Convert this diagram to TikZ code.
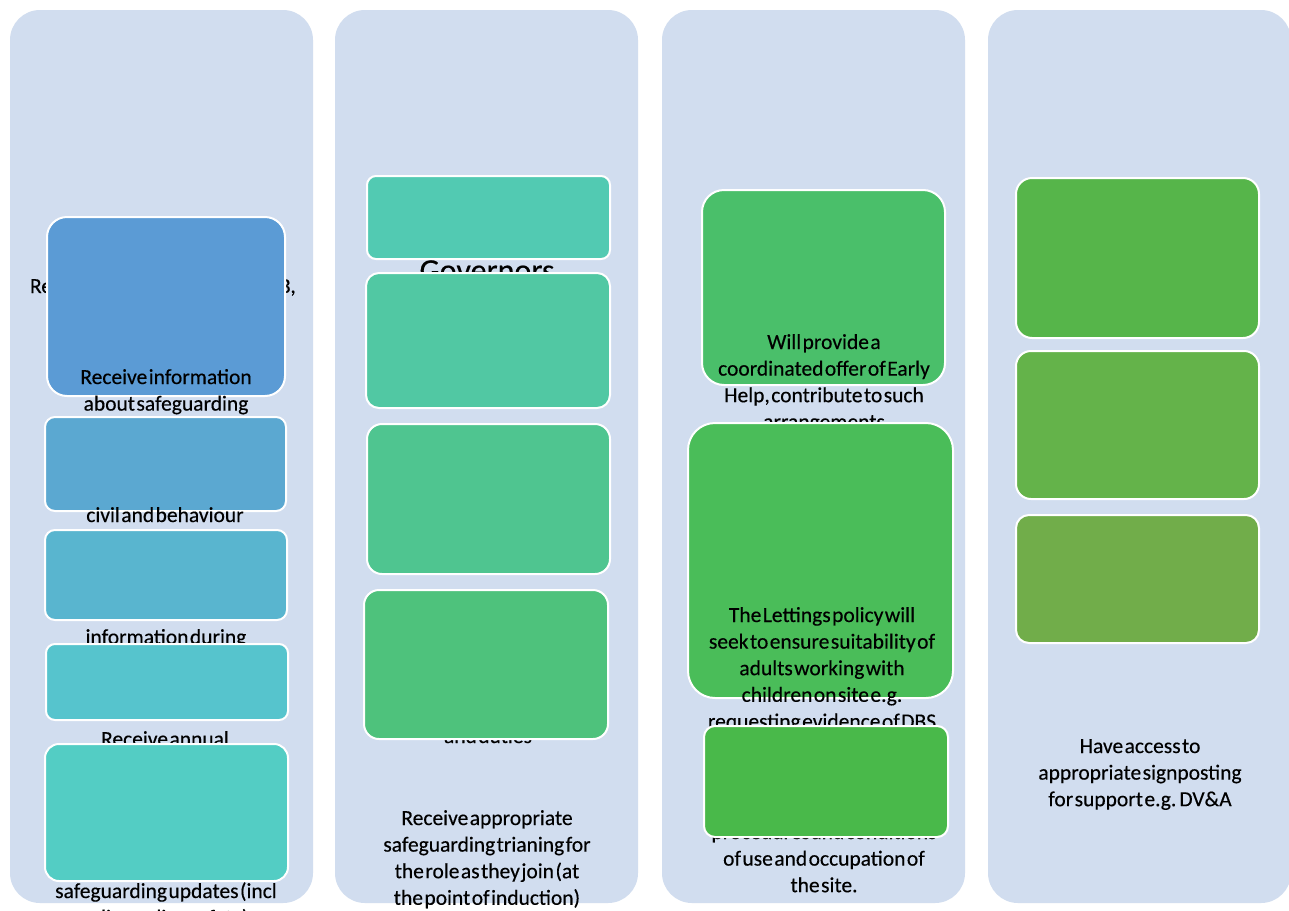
\documentclass[tikz,border=0pt]{standalone}
\usepackage{fontspec}
\setmainfont{Carlito}[WordSpace=0.3, FakeBold=0.3]
\newcommand\lns[1]{\begin{tabular}[t]{@{}c@{}}#1\end{tabular}}
\definecolor{bgblue}{HTML}{D1DDEF}
\definecolor{ca}{HTML}{5B9BD5}
\definecolor{cb}{HTML}{5BA8D1}
\definecolor{cc}{HTML}{59B5CF}
\definecolor{cd}{HTML}{56C4CD}
\definecolor{ce}{HTML}{53CDC4}
\definecolor{cf}{HTML}{52CAB2}
\definecolor{cg}{HTML}{51C8A3}
\definecolor{ch}{HTML}{4FC590}
\definecolor{ci}{HTML}{4EC27C}
\definecolor{cj}{HTML}{4ABF6A}
\definecolor{ck}{HTML}{4ABD59}
\definecolor{cl}{HTML}{49B94A}
\definecolor{cm}{HTML}{56B54A}
\definecolor{cn}{HTML}{64B34A}
\definecolor{co}{HTML}{71AD4A}
\begin{document}
\begin{tikzpicture}[x=1pt,y=-1pt,
  colbg/.style={fill=bgblue, rounded corners=30pt},
  box/.style={draw=white, line width=2pt, inner sep=0pt, outer sep=0pt},
  txt/.style={inner sep=0pt, outer sep=0pt, anchor=base, font=\fontsize{21.5}{26.6}\selectfont, text=black},
  big/.style={inner sep=0pt, outer sep=0pt, anchor=base, font=\fontsize{32}{39}\selectfont, text=black}]
\path[use as bounding box] (0,0) rectangle (1289,910);
\clip (0,0) rectangle (1289,910);
\fill[white] (0,0) rectangle (1289,910);
% column backgrounds
\path[colbg] (10,10) rectangle (313,903);
\path[colbg] (335,10) rectangle (638,903);
\path[colbg] (662,10) rectangle (965,903);
\path[colbg] (988,10) rectangle (1291,903);
% ---------- column 1
\node[txt, anchor=base west] (h1a) at (30,293) {Re};
\node[txt, anchor=base west] (h1b) at (279,293) {B,};
\node[box, fill=ca, rounded corners=20pt, minimum width=238pt, minimum height=179pt] (a1) at (166,306.5) {};
\node[txt] (ta1) at (166,384) {\lns{Receive information\\about safeguarding}};
\node[box, fill=cb, rounded corners=10pt, minimum width=241pt, minimum height=94pt] (a2) at (165.5,464) {};
\node[txt] (ta2) at (165,522) {\lns{civil and behaviour}};
\node[box, fill=cc, rounded corners=10pt, minimum width=242pt, minimum height=90pt] (a3) at (166,575) {};
\node[txt] (ta3) at (166,644) {\lns{information during}};
\node[box, fill=cd, rounded corners=9pt, minimum width=242pt, minimum height=76pt] (a4) at (167,682) {};
\node[txt] (ta4) at (165,746) {\lns{Receive annual}};
\node[box, fill=ce, rounded corners=14pt, minimum width=243pt, minimum height=137pt] (a5) at (166.5,812.5) {};
\node[txt] (ta5) at (166,898) {\lns{safeguarding updates (incl\\uding online safety)}};
% ---------- column 2
\node[box, fill=cf, rounded corners=9pt, minimum width=243pt, minimum height=83pt] (b1) at (488.5,217.5) {};
\node[big] (hb) at (487,281) {Governors};
\node[box, fill=cg, rounded corners=13pt, minimum width=244pt, minimum height=135pt] (b2) at (488,340.5) {};
\node[box, fill=ch, rounded corners=15pt, minimum width=243pt, minimum height=150pt] (b3) at (488.5,499) {};
\node[txt] (tb4) at (488,743) {\lns{and duties}};
\node[box, fill=ci, rounded corners=15pt, minimum width=244pt, minimum height=149pt] (b4) at (486,664.5) {};
\node[txt] (tb5) at (487,825) {\lns{Receive appropriate\\safeguarding trianing for\\the role as they join (at\\the point of induction)}};
% ---------- column 3
\node[box, fill=cj, rounded corners=22pt, minimum width=243pt, minimum height=195pt] (c1) at (823.5,287.5) {};
\node[txt] (tc1) at (824,349) {\lns{Will provide a\\coordinated offer of Early\\Help, contribute to such\\arrangements}};
\node[box, fill=ck, rounded corners=27pt, minimum width=265pt, minimum height=275pt] (c2) at (820.5,560.5) {};
\node[txt] (tc2) at (822,622) {\lns{The Lettings policy will\\seek to ensure suitability of\\adults working with\\children on site e.g.\\requesting evidence of DBS}};
\node[txt] (tc3) at (824,839) {\lns{procedures and conditions\\of use and occupation of\\the site.}};
\node[box, fill=cl, rounded corners=11pt, minimum width=244pt, minimum height=111pt] (c3) at (826,781.5) {};
% ---------- column 4
\node[box, fill=cm, rounded corners=16pt, minimum width=243pt, minimum height=160pt] (d1) at (1137.5,258) {};
\node[box, fill=cn, rounded corners=15pt, minimum width=243pt, minimum height=148pt] (d2) at (1137.5,425) {};
\node[box, fill=co, rounded corners=13pt, minimum width=243pt, minimum height=128pt] (d3) at (1137.5,579) {};
\node[txt] (td) at (1140,753) {\lns{Have access to\\appropriate signposting\\for support e.g. DV\&A}};
\end{tikzpicture}
\end{document}
